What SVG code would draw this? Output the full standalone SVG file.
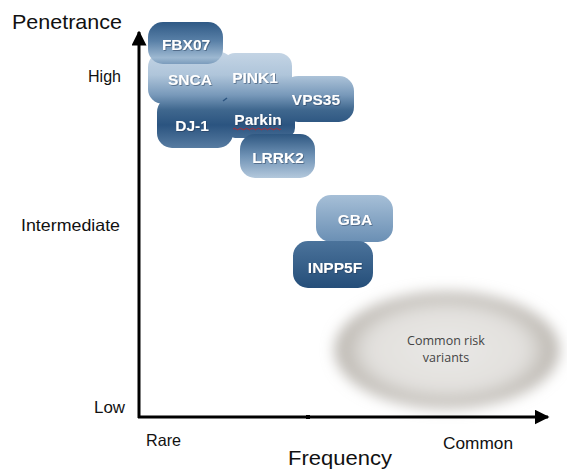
<svg xmlns="http://www.w3.org/2000/svg" width="567" height="470" viewBox="0 0 567 470">
<style>
.ax{font-family:"Liberation Sans",Arial,sans-serif;fill:#111;}
.gl{font-family:"Liberation Sans",Arial,sans-serif;font-weight:bold;font-size:15.5px;fill:#fff;text-anchor:middle;filter:url(#sh);}
.cr{font-family:"Open Sans","Liberation Sans",sans-serif;font-size:12.5px;fill:#444;text-anchor:middle;}
.axis{stroke:#000;stroke-width:3;fill:none;}
</style>
<defs>
<linearGradient id="gCluster" gradientUnits="userSpaceOnUse" x1="0" y1="50" x2="0" y2="150">
<stop offset="0" stop-color="#c6d6e6"/>
<stop offset="0.25" stop-color="#afc5da"/>
<stop offset="0.45" stop-color="#7899ba"/>
<stop offset="0.6" stop-color="#3f678e"/>
<stop offset="0.75" stop-color="#2b5480"/>
<stop offset="1" stop-color="#5b7fa4"/>
</linearGradient>
<linearGradient id="gFbx" x1="0" y1="0" x2="0" y2="1">
<stop offset="0" stop-color="#2f5985"/>
<stop offset="0.45" stop-color="#5980a7"/>
<stop offset="0.85" stop-color="#9db8d1"/>
<stop offset="1" stop-color="#7b9cbc"/>
</linearGradient>
<linearGradient id="gLrrk" x1="0" y1="0" x2="0" y2="1">
<stop offset="0" stop-color="#2e5781"/>
<stop offset="0.5" stop-color="#6f92b5"/>
<stop offset="1" stop-color="#b3c8dc"/>
</linearGradient>
<linearGradient id="gGba" x1="0" y1="0" x2="0" y2="1">
<stop offset="0" stop-color="#a6bfd7"/>
<stop offset="1" stop-color="#6a8fb4"/>
</linearGradient>
<linearGradient id="gInp" x1="0" y1="0" x2="0" y2="1">
<stop offset="0" stop-color="#4b739b"/>
<stop offset="1" stop-color="#254e79"/>
</linearGradient>
<radialGradient id="gEll" cx="0.5" cy="0.5" r="0.5">
<stop offset="0" stop-color="#e9e8e6"/>
<stop offset="0.7" stop-color="#e2e0dd"/>
<stop offset="0.9" stop-color="#c4c0ba"/>
<stop offset="1" stop-color="#b3aea7"/>
</radialGradient>
<filter id="blur" x="-20%" y="-30%" width="140%" height="160%">
<feGaussianBlur stdDeviation="7"/>
</filter>
<filter id="sh" x="-10%" y="-20%" width="130%" height="150%">
<feDropShadow dx="0.8" dy="0.8" stdDeviation="0.6" flood-color="#1a3350" flood-opacity="0.6"/>
</filter>
<marker id="arr" viewBox="0 0 10 10" refX="9" refY="5" markerWidth="5" markerHeight="5" markerUnits="strokeWidth" orient="auto">
<path d="M0,0 L10,5 L0,10 Z" fill="#000"/>
</marker>
</defs>
<rect width="567" height="470" fill="#fff"/>

<g id="common-risk">
<ellipse cx="447" cy="350" rx="112" ry="58" fill="url(#gEll)" filter="url(#blur)"/>
<text class="cr" x="446" y="345">Common risk</text>
<text class="cr" x="446" y="362">variants</text>
</g>

<g id="connectors">
<line class="axis" x1="139" y1="418" x2="139" y2="32" marker-end="url(#arr)"/>
<line class="axis" x1="138" y1="417" x2="548" y2="417" marker-end="url(#arr)"/>
<rect x="306" y="415" width="4" height="4" fill="#000"/>
</g>

<g id="snca"><rect x="148" y="52" width="86" height="52" rx="15" fill="url(#gCluster)"/></g>
<g id="pink1"><rect x="222" y="53" width="70" height="54" rx="13" fill="url(#gCluster)"/></g>
<g id="vps35"><rect x="283" y="76" width="71" height="46" rx="15" fill="url(#gCluster)"/></g>
<g id="dj1"><rect x="157" y="97" width="76" height="51" rx="15" fill="url(#gCluster)"/></g>
<g id="parkin"><rect x="225" y="97" width="70" height="41" rx="10" fill="url(#gCluster)"/></g>
<g id="lrrk2"><rect x="240" y="134" width="75" height="44" rx="15" fill="url(#gLrrk)"/></g>
<g id="fbx07"><rect x="148" y="22" width="75" height="42" rx="15" fill="url(#gFbx)"/></g>
<g id="gba"><rect x="316" y="195" width="77" height="47" rx="15" fill="url(#gGba)"/></g>
<g id="inpp5f"><rect x="293" y="241" width="80" height="47" rx="15" fill="url(#gInp)"/></g>

<g id="labels">
<text class="gl" x="186" y="50">FBX07</text>
<text class="gl" x="190" y="85">SNCA</text>
<text class="gl" x="255" y="83">PINK1</text>
<text class="gl" x="316" y="105">VPS35</text>
<text class="gl" x="192" y="131">DJ-1</text>
<text class="gl" x="258" y="125">Parkin</text>
<text class="gl" x="278" y="163">LRRK2</text>
<text class="gl" x="355" y="225">GBA</text>
<text class="gl" x="335" y="273">INPP5F</text>
<path d="M233,129 q1.5,-1.5 3,0 t3,0 t3,0 t3,0 t3,0 t3,0 t3,0 t3,0 t3,0 t3,0 t3,0 t3,0 t3,0 t3,0 t3,0 t3,0" fill="none" stroke="#d02020" stroke-width="0.8"/>
<path d="M223,101 L227,98" stroke="#2c5480" stroke-width="1.5"/>
</g>

<g id="axis-labels">
<text class="ax" x="12" y="29" font-size="21" textLength="110" lengthAdjust="spacingAndGlyphs">Penetrance</text>
<text class="ax" x="88" y="82" font-size="16.5" textLength="33" lengthAdjust="spacingAndGlyphs">High</text>
<text class="ax" x="21" y="231" font-size="16.5" textLength="99" lengthAdjust="spacingAndGlyphs">Intermediate</text>
<text class="ax" x="94" y="413" font-size="16.5" textLength="31" lengthAdjust="spacingAndGlyphs">Low</text>
<text class="ax" x="146" y="446" font-size="16.5" textLength="35" lengthAdjust="spacingAndGlyphs">Rare</text>
<text class="ax" x="443" y="449" font-size="16.5" textLength="70" lengthAdjust="spacingAndGlyphs">Common</text>
<text class="ax" x="288" y="465" font-size="21" textLength="104" lengthAdjust="spacingAndGlyphs">Frequency</text>
</g>
</svg>
